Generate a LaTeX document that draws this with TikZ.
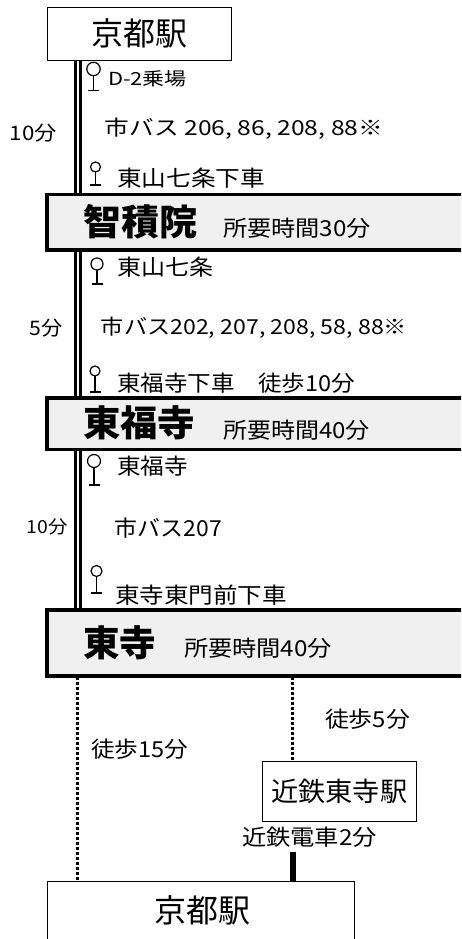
\documentclass[tikz,border=0pt]{standalone}
\usepackage{fontspec}
\usepackage{graphicx}
\setmainfont{Noto Sans CJK JP}
% text node: name, centre x, centre y, width px, size pt, text
\newcommand{\lab}[7][]{\node[lab,#1] (#2) at (#3,#4) {\fontsize{#6}{#6}\selectfont\resizebox{\dimexpr#5pt*3/4\relax}{\height}{#7}};}
% box: style, name, x1, y1, x2, y2, content
\newcommand{\bx}[7]{\node[#1,minimum width={(#5-#3)*0.75pt},minimum height={(#6-#4)*0.75pt}] (#2) at ({(#3+#5)/2},{(#4+#6)/2}) {#7};}
% bus stop sign: cx, cy, r, base y, base half width
\newcommand{\stopsign}[5]{\draw[sign] (#1,#2) circle[radius=#3];\draw[sign] (#1,#2+#3) -- (#1,#4) (#1-#5,#4) -- (#1+#5,#4);}
\tikzset{
  lab/.style={inner sep=0pt,outer sep=0pt,anchor=center,text=black},
  station/.style={draw=black,fill=white,line width=0.75pt,inner sep=0pt,outer sep=0pt},
  sight/.style={draw=black,fill=black!6,line width=2.6pt,inner sep=0pt,outer sep=0pt},
  railthick/.style={line width=2.4pt,draw=black},
  railthin/.style={line width=1.6pt,draw=black},
  walk/.style={line width=2.25pt,draw=black,dash pattern=on 2.25pt off 1.5pt},
  train/.style={line width=4.5pt,draw=black},
  sign/.style={line width=0.9pt,draw=black},
}
\begin{document}
\begin{tikzpicture}[x=0.75pt,y=-0.75pt]
\useasboundingbox (0,0) rectangle (461,939);
\clip (0,0) rectangle (461,939);
\fill[white] (0,0) rectangle (461,939);
% rails behind the boxes
\coordinate (r1) at (75.5,60);\coordinate (r2) at (80.5,60);
\coordinate (r3) at (75.5,193);\coordinate (r4) at (80.5,193);
\coordinate (r5) at (75.5,250);\coordinate (r6) at (80.5,250);
\coordinate (r7) at (75.5,398);\coordinate (r8) at (80.5,398);
\coordinate (r9) at (75.5,450);\coordinate (r10) at (80.5,450);
\coordinate (r11) at (75.5,610);\coordinate (r12) at (80.5,610);
\draw[railthick] (r1) -- (r3) (r5) -- (r7) (r9) -- (r11);
\draw[railthin] (r2) -- (r4) (r6) -- (r8) (r10) -- (r12);
% boxes
\bx{station}{top}{47}{7.5}{231}{60}{\fontsize{24}{24}\selectfont\resizebox{72pt}{\height}{京都駅}}
\bx{sight}{chishakuin}{47}{194.5}{475}{250}{}
\bx{sight}{tofukuji}{47}{398}{475}{449.5}{}
\bx{sight}{toji}{47}{610}{475}{676}{}
\bx{station}{kintetsu}{262.5}{761}{416}{821}{\fontsize{20}{20}\selectfont\resizebox{102pt}{\height}{近鉄東寺駅}}
\bx{station}{bottom}{47.5}{881.5}{354}{960}{}
% connectors
\coordinate (w1) at (77.5,677);\coordinate (w2) at (77.5,881);
\coordinate (w3) at (292.5,677);\coordinate (w4) at (292.5,761);
\coordinate (t1) at (293,852);\coordinate (t2) at (293,881);
\draw[walk] (w1) -- (w2);
\draw[walk] (w3) -- (w4);
\draw[train] (t1) -- (t2);
% bus stop signs
\stopsign{93.5}{69}{6.7}{90.5}{5.5}
\stopsign{95.5}{167}{5}{185}{5.5}
\stopsign{97}{264}{6}{284}{5.5}
\stopsign{95}{371}{5}{392}{5.5}
\stopsign{94}{461}{6.5}{485}{5.5}
\stopsign{96.5}{571}{5.5}{593}{5.5}
% labels
\lab{a1}{147.5}{79}{79}{13.5}{D-2乗場}
\lab{a2}{33.5}{133}{47}{15}{10分}
\lab{a3}{244}{128.5}{278}{15.5}{市バス 206, 86, 208, 88※}
\lab{a4}{191}{178}{148}{16.5}{東山七条下車}
\lab{a5}{140}{222}{114}{27}{\bfseries 智積院}
\lab{a6}{297}{228}{148}{16.5}{所要時間30分}
\lab{b1}{165}{267}{96}{16.5}{東山七条}
\lab{b2}{46.5}{328}{33}{15}{5分}
\lab{b3}{254}{328}{306}{15.5}{市バス202, 207, 208, 58, 88※}
\lab{b4}{236}{383}{238}{16.5}{東福寺下車\hspace{1em}徒歩10分}
\lab{b5}{139}{423}{112}{27}{\bfseries 東福寺}
\lab{b6}{296.5}{430}{147}{16.5}{所要時間40分}
\lab{c1}{152.5}{466}{71}{16.5}{東福寺}
\lab{c2}{47.5}{527}{41}{13.5}{10分}
\lab{c3}{168.5}{528}{107}{16.5}{市バス207}
\lab{c4}{201}{595}{172}{16.5}{東寺東門前下車}
\lab{c5}{119.5}{643}{73}{27}{\bfseries 東寺}
\lab{c6}{258}{648}{148}{16.5}{所要時間40分}
\lab{d1}{367.5}{719}{85}{16.5}{徒歩5分}
\lab{d2}{139.5}{749}{97}{16.5}{徒歩15分}
\lab{d3}{309.5}{837}{135}{16.5}{近鉄電車2分}
\lab{d4}{202}{910}{96}{24}{京都駅}
\end{tikzpicture}
\end{document}
